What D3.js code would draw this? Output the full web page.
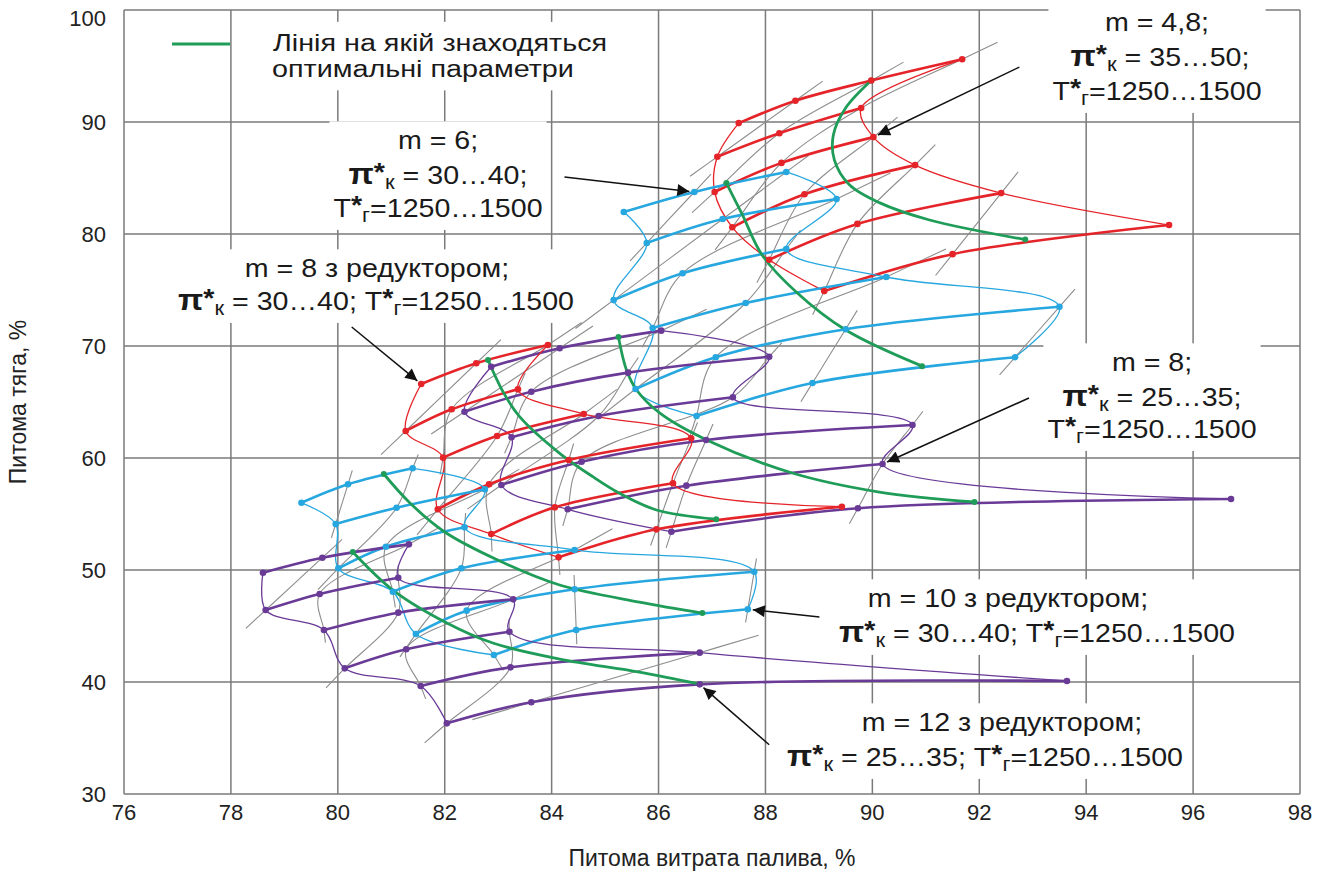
<!DOCTYPE html>
<html>
<head>
<meta charset="utf-8">
<script src="https://d3js.org/d3.v7.min.js"></script>
<style>
body { margin: 0; background: #fff; }
svg { display: block; font-family: "Liberation Sans", Arial, sans-serif; }
</style>
</head>
<body>
<div id="chart"></div>
<script>
// axis ticks
var xTicks = d3.range(76, 99, 2);
var yTicks = d3.range(30, 101, 10);

// each family: rows of [fuel consumption %, thrust %] points (thick lines with markers)
var m48Rows = [
  [[87.50, 89.9], [88.56, 91.9], [89.98, 93.7], [91.68, 95.6]],
  [[87.10, 86.9], [88.26, 89.0], [89.79, 91.25]],
  [[87.05, 83.75], [88.30, 86.35], [90.02, 88.65]],
  [[87.38, 80.6], [88.73, 83.55], [90.80, 86.15]],
  [[88.07, 77.7], [89.72, 80.9], [92.41, 83.65]],
  [[89.10, 74.9], [91.50, 78.2], [95.55, 80.8]]
];
var m48Opt = [[89.98, 93.7], [89.5, 91.25], [89.27, 88.84], [89.29, 86.6], [89.57, 84.4], [90.13, 82.8], [91.07, 81.25], [92.86, 79.5]];

var m6Rows = [
  [[85.35, 81.96], [86.67, 83.75], [88.39, 85.54]],
  [[85.78, 79.2], [87.2, 81.34], [89.33, 83.12]],
  [[85.16, 74.1], [86.45, 76.5], [88.39, 78.66]],
  [[85.89, 71.6], [87.63, 73.84], [90.26, 76.16]],
  [[85.57, 66.16], [87.07, 69.0], [89.5, 71.5], [93.5, 73.5]],
  [[86.71, 63.75], [88.88, 66.7], [92.67, 69.0]]
];
var m6Opt = [[87.27, 84.55], [87.57, 81.7], [87.94, 78.1], [88.58, 74.8], [89.51, 71.4], [90.93, 68.2]];

var m8Rows = [
  [[82.87, 68.15], [84.15, 69.8], [86.05, 71.37]],
  [[82.37, 64.13], [83.62, 65.92], [85.43, 67.62], [88.07, 69.04]],
  [[83.25, 61.85], [84.88, 63.75], [87.39, 65.42]],
  [[83.06, 57.59], [84.56, 59.67], [86.89, 61.61], [90.75, 62.95]],
  [[84.3, 55.42], [86.52, 57.53], [90.19, 59.46]],
  [[86.24, 53.42], [89.73, 55.51], [96.71, 56.34]]
];
var m8Opt = [[85.25, 70.8], [85.4, 67.86], [85.59, 66.07], [86.02, 64.02], [86.9, 61.61], [88.5, 58.66], [90.13, 56.96], [91.91, 56.07]];

var m8rRows = [
  [[81.56, 66.61], [82.59, 68.46], [83.93, 70.09]],
  [[81.27, 62.41], [82.13, 64.35], [83.37, 66.13]],
  [[81.97, 60.03], [82.98, 61.96], [84.6, 63.93]],
  [[81.87, 55.42], [82.83, 57.65], [84.32, 59.82], [86.61, 61.76]],
  [[82.87, 53.21], [84.06, 55.6], [86.27, 57.74]],
  [[84.13, 51.13], [85.96, 53.63], [89.43, 55.65]]
];
var m8rOpt = [[82.81, 68.75], [83.09, 65.92], [83.4, 63.69], [84.15, 60.42], [84.77, 58.33], [85.27, 56.85], [85.96, 55.36], [87.08, 54.53]];

var m10rRows = [
  [[79.32, 56.0], [80.19, 57.65], [81.4, 59.08]],
  [[79.96, 54.11], [81.1, 55.56], [82.75, 57.21]],
  [[80.01, 50.15], [80.9, 52.08], [82.37, 53.81]],
  [[81.03, 48.06], [82.31, 50.15], [84.43, 51.79]],
  [[81.46, 44.29], [82.41, 46.37], [84.43, 48.28], [87.79, 49.85]],
  [[82.92, 42.41], [84.46, 44.64], [87.67, 46.49]]
];
var m10rOpt = [[80.86, 58.57], [81.35, 55.98], [82.0, 53.39], [82.99, 50.89], [84.15, 48.66], [85.64, 47.14], [86.82, 46.16]];

var m12rRows = [
  [[78.6, 49.76], [79.71, 51.1], [81.33, 52.29]],
  [[78.65, 46.43], [79.66, 47.86], [81.13, 49.31]],
  [[79.74, 44.64], [81.13, 46.19], [83.28, 47.38]],
  [[80.13, 41.22], [81.28, 42.92], [83.21, 44.49]],
  [[81.55, 39.64], [83.23, 41.31], [86.77, 42.62]],
  [[82.04, 36.31], [83.62, 38.19], [86.77, 39.79], [93.64, 40.09]]
];
var m12rOpt = [[80.28, 51.61], [81.03, 48.21], [82.04, 45.27], [82.9, 43.48], [84.15, 42.05], [85.64, 40.89], [86.77, 39.82]];

var red = "#e5242a", cyan = "#27a7df", purple = "#6a3a97", green = "#1f9d58", gray = "#8d8d8d";

var families = [
  { rows: m48Rows, opt: m48Opt, color: red },
  { rows: m6Rows, opt: m6Opt, color: cyan },
  { rows: m8Rows, opt: m8Opt, color: purple },
  { rows: m8rRows, opt: m8rOpt, color: red },
  { rows: m10rRows, opt: m10rOpt, color: cyan },
  { rows: m12rRows, opt: m12rOpt, color: purple }
];

var width = 1339, height = 877;

var svg = d3.select("#chart").append("svg")
    .attr("width", width)
    .attr("height", height);

var x = d3.scaleLinear().domain([76, 98]).range([124, 1300]);
var y = d3.scaleLinear().domain([30, 100]).range([794, 10]);

// grid
svg.append("g").selectAll("line").data(xTicks).enter().append("line")
    .attr("x1", function (d) { return x(d); }).attr("x2", function (d) { return x(d); })
    .attr("y1", y(30)).attr("y2", y(100))
    .attr("stroke", "#7a7a7a").attr("stroke-width", 1.5);
svg.append("g").selectAll("line").data(yTicks).enter().append("line")
    .attr("y1", function (d) { return y(d); }).attr("y2", function (d) { return y(d); })
    .attr("x1", x(76)).attr("x2", x(98))
    .attr("stroke", "#7a7a7a").attr("stroke-width", 1.5);

// tick labels
svg.append("g").selectAll("text").data(xTicks).enter().append("text")
    .attr("x", function (d) { return x(d); })
    .attr("y", 820)
    .attr("text-anchor", "middle")
    .attr("font-size", 22)
    .attr("fill", "#222")
    .text(function (d) { return d; });
svg.append("g").selectAll("text").data(yTicks).enter().append("text")
    .attr("x", 106)
    .attr("y", function (d) { return Math.max(y(d), 18) + 8; })
    .attr("text-anchor", "end")
    .attr("font-size", 22)
    .attr("fill", "#222")
    .text(function (d) { return d; });

svg.append("text")
    .attr("x", 712).attr("y", 866)
    .attr("text-anchor", "middle")
    .attr("font-size", 23)
    .attr("fill", "#222")
    .text("Питома витрата палива, %");
svg.append("text")
    .attr("transform", "translate(26,402) rotate(-90)")
    .attr("text-anchor", "middle")
    .attr("font-size", 23)
    .attr("fill", "#222")
    .text("Питома тяга, %");

// annotations (white boxes hide the grid behind the text)
var boxLayer = svg.append("g");
var lineLayer = svg.append("g");
var textLayer = svg.append("g");

function P(rest) { return [{ t: "π", b: 1, big: 1 }, { t: "*", b: 1, sup: 1 }, { t: "к", sub: 1 }, { t: rest }]; }
function T(rest) { return [{ t: "T" }, { t: "*", b: 1, sup: 1 }, { t: "г", sub: 1 }, { t: rest }]; }

var notes = [
  { lines: [[1157, 22, [{ t: "m = 4,8;" }]], [1160, 57, P(" = 35…50;")], [1157, 91, T("=1250…1500")]],
    from: [92.75, 94.9], to: [90.02, 88.65] },
  { lines: [[438, 140, [{ t: "m = 6;" }]], [438, 175, P(" = 30…40;")], [438, 208, T("=1250…1500")]],
    from: [84.24, 85.09], to: [86.67, 83.75] },
  { lines: [[377, 268, [{ t: "m = 8 з редуктором;" }]], [376, 301, P(" = 30…40; ").concat(T("=1250…1500"))]],
    from: [80.26, 71.7], to: [81.56, 66.61] },
  { lines: [[1152, 362, [{ t: "m = 8;" }]], [1152, 397, P(" = 25…35;")], [1152, 429, T("=1250…1500")]],
    from: [92.93, 65.36], to: [90.19, 59.46] },
  { lines: [[1008, 598, [{ t: "m = 10 з редуктором;" }]], [1037, 633, P(" = 30…40; ").concat(T("=1250…1500"))]],
    from: [89.01, 45.8], to: [87.67, 46.49] },
  { lines: [[1002, 722, [{ t: "m = 12 з редуктором;" }]], [985, 757, P(" = 25…35; ").concat(T("=1250…1500"))]],
    from: [88.07, 34.4], to: [86.77, 39.79] }
];

// the source text is a little wider than it is tall
function richText(g, cx, cy, parts, anchor, size, sx) {
  size = size || 26;
  sx = sx || 1.1;
  var t = g.append("text")
      .attr("transform", "translate(" + cx + "," + cy + ") scale(" + sx + ",1)")
      .attr("x", 0).attr("y", size * 0.35)
      .attr("text-anchor", anchor || "middle")
      .attr("font-size", size)
      .attr("fill", "#1a1a1a");
  var shift = 0;
  parts.forEach(function (p) {
    var ts = t.append("tspan").text(p.t);
    var target = p.sub ? 5 : (p.sup ? -3 : 0);
    if (target !== shift) { ts.attr("dy", target - shift); shift = target; }
    if (p.sub) ts.attr("font-size", 20);
    if (p.b) ts.attr("font-weight", "bold");
    if (p.big) ts.attr("font-size", 30);
  });
  return { node: t, cx: cx, cy: cy, sx: sx };
}

function whiteBox(items, pad) {
  var b = items.map(function (it) {
    var bb = it.node.node().getBBox();
    return { x: it.cx + bb.x * it.sx, y: it.cy + bb.y, w: bb.width * it.sx, h: bb.height };
  });
  var x0 = d3.min(b, function (d) { return d.x; }) - pad,
      y0 = d3.min(b, function (d) { return d.y; }) - pad,
      x1 = d3.max(b, function (d) { return d.x + d.w; }) + pad,
      y1 = d3.max(b, function (d) { return d.y + d.h; }) + pad;
  boxLayer.append("rect")
      .attr("x", x0).attr("y", y0)
      .attr("width", x1 - x0).attr("height", y1 - y0)
      .attr("fill", "#fff");
}

notes.forEach(function (n) {
  var texts = n.lines.map(function (l) { return richText(textLayer, l[0], l[1], l[2]); });
  whiteBox(texts, 4);
});

// legend
var leg1 = richText(textLayer, 273, 43, [{ t: "Лінія на якій знаходяться" }], "start", 23, 1.25);
var leg2 = richText(textLayer, 272, 69, [{ t: "оптимальні параметри" }], "start", 23, 1.25);
whiteBox([leg1, leg2], 8);
textLayer.append("line")
    .attr("x1", 172).attr("x2", 230).attr("y1", 44).attr("y2", 44)
    .attr("stroke", green).attr("stroke-width", 3);

// curves
var smooth = d3.line()
    .curve(d3.curveCatmullRom.alpha(0.5))
    .x(function (d) { return x(d[0]); })
    .y(function (d) { return y(d[1]); });

// grey lines run diagonally through the carpet: row i point j -> row i+1 point j-1
function diagonals(rows) {
  var pts = [];
  rows.forEach(function (r, i) { r.forEach(function (p, j) { pts.push({ k: i + j, i: i, p: p }); }); });
  var groups = d3.groups(pts, function (d) { return d.k; });
  return groups.filter(function (g) { return g[1].length > 1; }).map(function (g) {
    var ps = g[1].sort(function (a, b) { return a.i - b.i; }).map(function (d) { return d.p; });
    var a = ps[0], b = ps[1], c = ps[ps.length - 1], e = ps[ps.length - 2];
    var f = 0.35;
    return [[a[0] + (a[0] - b[0]) * f, a[1] + (a[1] - b[1]) * f]].concat(ps,
           [[c[0] + (c[0] - e[0]) * f, c[1] + (c[1] - e[1]) * f]]);
  });
}

families.forEach(function (f) {
  lineLayer.append("g").selectAll("path").data(diagonals(f.rows)).enter().append("path")
      .attr("d", smooth)
      .attr("fill", "none")
      .attr("stroke", gray)
      .attr("stroke-width", 1.1);
});

families.forEach(function (f) {
  var left = f.rows.map(function (r) { return r[0]; });
  var right = f.rows.map(function (r) { return r[r.length - 1]; });
  lineLayer.append("g").selectAll("path").data([left, right]).enter().append("path")
      .attr("d", smooth)
      .attr("fill", "none")
      .attr("stroke", f.color)
      .attr("stroke-width", 1.3);
  lineLayer.append("g").selectAll("path").data(f.rows).enter().append("path")
      .attr("d", smooth)
      .attr("fill", "none")
      .attr("stroke", f.color)
      .attr("stroke-width", 2.6);
});

families.forEach(function (f) {
  lineLayer.append("path")
      .datum(f.opt)
      .attr("d", smooth)
      .attr("fill", "none")
      .attr("stroke", green)
      .attr("stroke-width", 2.8);
  lineLayer.append("g").selectAll("circle").data([f.opt[0], f.opt[f.opt.length - 1]]).enter().append("circle")
      .attr("cx", function (d) { return x(d[0]); })
      .attr("cy", function (d) { return y(d[1]); })
      .attr("r", 3)
      .attr("fill", green);
});

families.forEach(function (f) {
  lineLayer.append("g").selectAll("circle").data(d3.merge(f.rows)).enter().append("circle")
      .attr("cx", function (d) { return x(d[0]); })
      .attr("cy", function (d) { return y(d[1]); })
      .attr("r", 3.3)
      .attr("fill", f.color);
});

// arrows
svg.append("defs").append("marker")
    .attr("id", "arr")
    .attr("viewBox", "0 0 10 10")
    .attr("refX", 10).attr("refY", 5)
    .attr("markerWidth", 17).attr("markerHeight", 12)
    .attr("markerUnits", "userSpaceOnUse")
    .attr("orient", "auto")
  .append("path")
    .attr("d", "M0,0L10,5L0,10z")
    .attr("fill", "#111");

notes.forEach(function (n) {
  var x0 = x(n.from[0]), y0 = y(n.from[1]), x1 = x(n.to[0]), y1 = y(n.to[1]);
  var len = Math.hypot(x1 - x0, y1 - y0), k = (len - 5) / len;
  textLayer.append("line")
      .attr("x1", x0).attr("y1", y0)
      .attr("x2", x0 + (x1 - x0) * k).attr("y2", y0 + (y1 - y0) * k)
      .attr("stroke", "#111").attr("stroke-width", 1.5)
      .attr("marker-end", "url(#arr)");
});
</script>
</body>
</html>
